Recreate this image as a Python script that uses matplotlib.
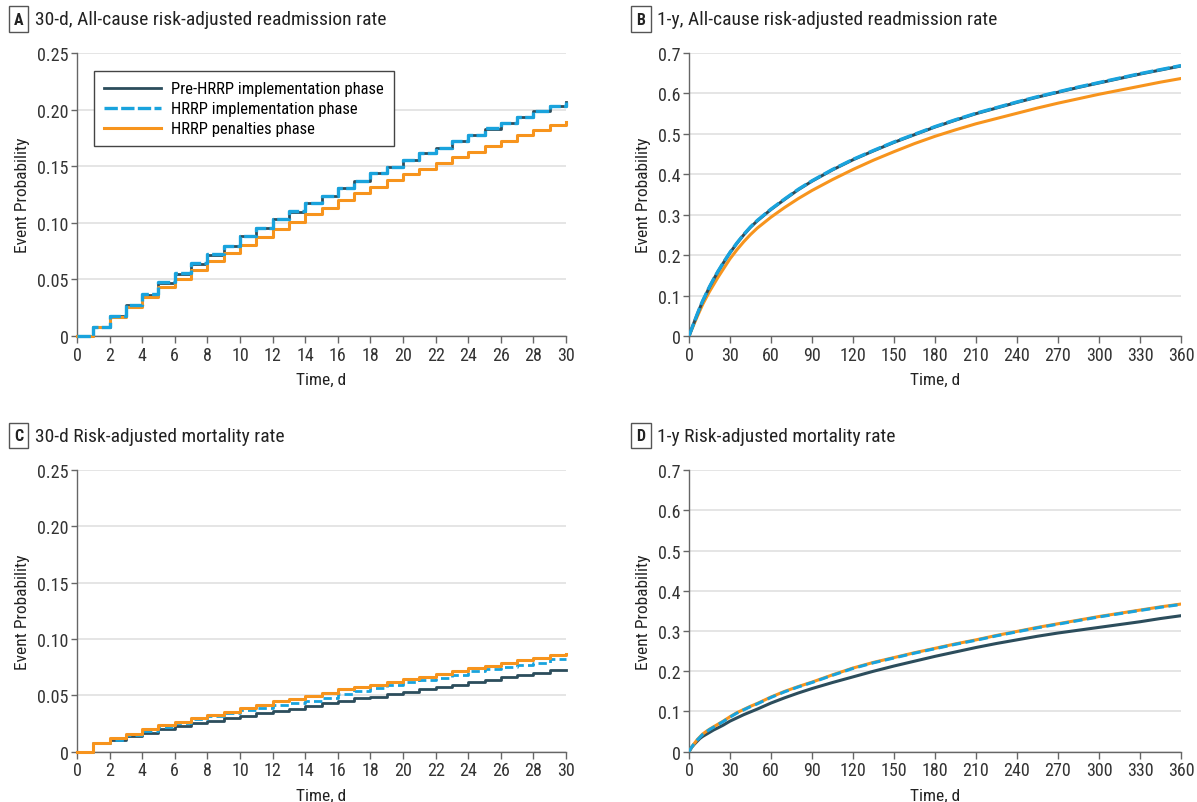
import matplotlib
matplotlib.use("Agg")
import matplotlib.pyplot as plt
from matplotlib import font_manager

# narrow-ish font: take the first one we have
names = {f.name for f in font_manager.fontManager.ttflist}
wanted = ["Roboto Condensed", "Open Sans Condensed", "Liberation Sans Narrow", "Roboto", "Liberation Sans"]
fam = [n for n in wanted if n in names][:1]
plt.rcParams["font.family"] = fam + ["DejaVu Sans"]

DARK = "#2c4d5c"
BLUE = "#19a3dd"
ORANGE = "#f7941d"

series_names = ["Pre-HRRP implementation phase",
                "HRRP implementation phase",
                "HRRP penalties phase"]

# panel A / C: days 0..30, step curves
days_30 = list(range(31))

readm30_pre = [0, 0.0083, 0.0177, 0.0277, 0.0366, 0.0472, 0.0552, 0.0640, 0.0720, 0.0797,
               0.0880, 0.0956, 0.1033, 0.1100, 0.1175, 0.1240, 0.1308, 0.1370, 0.1440, 0.1490,
               0.1555, 0.1615, 0.1660, 0.1720, 0.1777, 0.1833, 0.1880, 0.1936, 0.1990, 0.2030, 0.2066]
readm30_impl = [0, 0.0084, 0.0178, 0.0278, 0.0367, 0.0473, 0.0553, 0.0641, 0.0721, 0.0798,
                0.0881, 0.0957, 0.1034, 0.1101, 0.1176, 0.1241, 0.1309, 0.1371, 0.1441, 0.1491,
                0.1556, 0.1616, 0.1661, 0.1721, 0.1778, 0.1834, 0.1881, 0.1937, 0.1991, 0.2031, 0.2070]
readm30_pen = [0, 0.0083, 0.0168, 0.0260, 0.0345, 0.0430, 0.0500, 0.0584, 0.0660, 0.0735,
               0.0800, 0.0874, 0.0944, 0.1010, 0.1074, 0.1133, 0.1198, 0.1260, 0.1320, 0.1378,
               0.1430, 0.1476, 0.1530, 0.1580, 0.1630, 0.1680, 0.1724, 0.1777, 0.1824, 0.1865, 0.1890]

mort30_pre = [0, 0.0074, 0.0105, 0.0136, 0.0165, 0.0200, 0.0228, 0.0254, 0.0275, 0.0296,
              0.0318, 0.0340, 0.0360, 0.0380, 0.0405, 0.0432, 0.0452, 0.0473, 0.0490, 0.0510,
              0.0530, 0.0553, 0.0573, 0.0595, 0.0618, 0.0640, 0.0660, 0.0680, 0.0700, 0.0722, 0.0725]
mort30_impl = [0, 0.0074, 0.0107, 0.0150, 0.0186, 0.0222, 0.0254, 0.0288, 0.0320, 0.0345,
               0.0370, 0.0392, 0.0414, 0.0432, 0.0450, 0.0480, 0.0512, 0.0540, 0.0568, 0.0590,
               0.0615, 0.0635, 0.0657, 0.0685, 0.0713, 0.0730, 0.0749, 0.0770, 0.0790, 0.0820, 0.0825]
mort30_pen = [0, 0.0074, 0.0118, 0.0160, 0.0200, 0.0240, 0.0266, 0.0300, 0.0330, 0.0355,
              0.0390, 0.0415, 0.0450, 0.0465, 0.0497, 0.0525, 0.0553, 0.0575, 0.0595, 0.0620,
              0.0645, 0.0665, 0.0686, 0.0715, 0.0746, 0.0760, 0.0790, 0.0817, 0.0835, 0.0858, 0.0870]

# panel B / D: days 0..360, smooth curves
days_360 = [0, 2, 4, 6, 8, 10, 12, 15, 18, 21, 25, 30, 35, 40, 45, 50, 60, 70, 80, 90, 105, 120,
            135, 150, 165, 180, 195, 210, 225, 240, 255, 270, 285, 300, 315, 330, 345, 360]

readm1y_pre = [0, 0.018, 0.036, 0.053, 0.070, 0.086, 0.100, 0.121, 0.140, 0.158, 0.180, 0.206,
               0.229, 0.250, 0.269, 0.285, 0.313, 0.338, 0.362, 0.383, 0.411, 0.436, 0.458,
               0.479, 0.498, 0.517, 0.534, 0.550, 0.564, 0.578, 0.591, 0.603, 0.615, 0.626,
               0.637, 0.648, 0.658, 0.668]
readm1y_impl = [0, 0.018, 0.036, 0.054, 0.071, 0.087, 0.101, 0.122, 0.141, 0.159, 0.181, 0.207,
                0.230, 0.251, 0.270, 0.286, 0.314, 0.339, 0.363, 0.384, 0.412, 0.437, 0.459,
                0.480, 0.499, 0.518, 0.535, 0.551, 0.565, 0.579, 0.592, 0.604, 0.616, 0.627,
                0.638, 0.649, 0.659, 0.669]
readm1y_pen = [0, 0.016, 0.032, 0.048, 0.063, 0.078, 0.091, 0.110, 0.127, 0.144, 0.165, 0.191,
               0.213, 0.233, 0.251, 0.267, 0.294, 0.318, 0.340, 0.360, 0.387, 0.412, 0.435,
               0.456, 0.476, 0.494, 0.510, 0.525, 0.538, 0.551, 0.564, 0.576, 0.587, 0.598,
               0.608, 0.618, 0.628, 0.637]

mort1y_pre = [0, 0.011, 0.019, 0.026, 0.033, 0.038, 0.042, 0.048, 0.054, 0.059, 0.066, 0.076,
              0.084, 0.092, 0.099, 0.106, 0.121, 0.134, 0.146, 0.157, 0.172, 0.186, 0.200,
              0.213, 0.225, 0.237, 0.248, 0.259, 0.269, 0.278, 0.287, 0.295, 0.302, 0.309,
              0.316, 0.323, 0.331, 0.338]
mort1y_impl = [0, 0.012, 0.021, 0.029, 0.036, 0.043, 0.048, 0.055, 0.061, 0.067, 0.075, 0.086,
               0.096, 0.104, 0.112, 0.119, 0.135, 0.149, 0.161, 0.172, 0.190, 0.207, 0.221,
               0.233, 0.245, 0.256, 0.267, 0.277, 0.288, 0.298, 0.308, 0.317, 0.326, 0.335,
               0.343, 0.351, 0.359, 0.366]
mort1y_pen = [0, 0.012, 0.021, 0.030, 0.037, 0.044, 0.049, 0.056, 0.062, 0.068, 0.076, 0.087,
              0.097, 0.105, 0.113, 0.120, 0.136, 0.150, 0.162, 0.173, 0.191, 0.208, 0.222,
              0.234, 0.246, 0.257, 0.268, 0.278, 0.289, 0.299, 0.309, 0.318, 0.327, 0.336,
              0.344, 0.352, 0.360, 0.367]

panel_letters = ["A", "B", "C", "D"]
panel_titles = ["30-d, All-cause risk-adjusted readmission rate",
                "1-y, All-cause risk-adjusted readmission rate",
                "30-d Risk-adjusted mortality rate",
                "1-y Risk-adjusted mortality rate"]
ticks_30 = list(range(0, 31, 2))
ticks_360 = list(range(0, 361, 30))
yticks_short = [0, 0.05, 0.10, 0.15, 0.20, 0.25]
ylabels_short = ["0", "0.05", "0.10", "0.15", "0.20", "0.25"]
yticks_long = [0, 0.1, 0.2, 0.3, 0.4, 0.5, 0.6, 0.7]
ylabels_long = ["0", "0.1", "0.2", "0.3", "0.4", "0.5", "0.6", "0.7"]


def style_axes(ax, xticks, xmax, yticks, ylabels):
    ax.set_xlim(0, xmax)
    ax.set_ylim(0, yticks[-1])
    ax.set_xticks(xticks)
    ax.set_yticks(yticks)
    ax.set_yticklabels(ylabels)
    ax.grid(axis="y", color="#e0e0e0", linewidth=1.2)
    ax.set_axisbelow(True)
    for s in ["top", "right"]:
        ax.spines[s].set_visible(False)
    for s in ["left", "bottom"]:
        ax.spines[s].set_color("#666666")
        ax.spines[s].set_linewidth(1.0)
    ax.tick_params(axis="both", labelsize=13, colors="#666666", labelcolor="#333333",
                   length=5, width=1.0, direction="out", pad=2)
    ax.tick_params(axis="y", length=4)
    ax.set_xlabel("Time, d", fontsize=12.5, color="#222222", labelpad=6)
    ax.set_ylabel("Event Probability", fontsize=12.5, color="#222222", labelpad=5)


def draw_steps(ax, x, pre, impl, pen, pen_top):
    kw = dict(drawstyle="steps-post", clip_on=False)
    ax.plot(x, pre, color=DARK, lw=2.0, label=series_names[0], zorder=3, **kw)
    if pen_top:
        ax.plot(x, impl, color=BLUE, lw=2.0, ls=(0, (3, 1.5)), label=series_names[1], zorder=4, **kw)
        ax.plot(x, pen, color=ORANGE, lw=2.2, label=series_names[2], zorder=5, **kw)
    else:
        ax.plot(x, pen, color=ORANGE, lw=2.2, label=series_names[2], zorder=3, **kw)
        ax.plot(x, impl, color=BLUE, lw=2.4, ls=(0, (4, 1)), label=series_names[1], zorder=4, **kw)


fig = plt.figure(figsize=(11.97, 8.03), dpi=100)

ax_a = fig.add_axes([0.0643, 0.5803, 0.4086, 0.3524])
ax_b = fig.add_axes([0.5756, 0.5803, 0.4110, 0.3524])
ax_c = fig.add_axes([0.0643, 0.0626, 0.4086, 0.3508])
ax_d = fig.add_axes([0.5756, 0.0626, 0.4110, 0.3508])

# A
draw_steps(ax_a, days_30, readm30_pre, readm30_impl, readm30_pen, pen_top=False)
style_axes(ax_a, ticks_30, 30, yticks_short, ylabels_short)
h, l = ax_a.get_legend_handles_labels()
order = [l.index(n) for n in series_names]
leg = ax_a.legend([h[i] for i in order], [l[i] for i in order], loc="upper left",
                  bbox_to_anchor=(0.035, 0.935), fontsize=12, frameon=True, fancybox=False,
                  framealpha=1, handlelength=3.4, handletextpad=0.6, borderpad=0.6,
                  labelspacing=0.3, borderaxespad=0)
leg.get_frame().set_edgecolor("#444444")
leg.get_frame().set_linewidth(1.0)
leg.set_zorder(10)

# B
ax_b.plot(days_360, readm1y_pen, color=ORANGE, lw=2.2, zorder=3)
ax_b.plot(days_360, readm1y_pre, color=DARK, lw=2.2, zorder=4)
ax_b.plot(days_360, readm1y_impl, color=BLUE, lw=2.4, ls=(0, (4, 1)), zorder=5)
style_axes(ax_b, ticks_360, 360, yticks_long, ylabels_long)

# C
draw_steps(ax_c, days_30, mort30_pre, mort30_impl, mort30_pen, pen_top=True)
style_axes(ax_c, ticks_30, 30, yticks_short, ylabels_short)

# D
ax_d.plot(days_360, mort1y_pre, color=DARK, lw=2.2, zorder=3)
ax_d.plot(days_360, mort1y_pen, color=ORANGE, lw=2.2, zorder=4)
ax_d.plot(days_360, mort1y_impl, color=BLUE, lw=2.2, ls=(0, (3, 1.5)), zorder=5)
style_axes(ax_d, ticks_360, 360, yticks_long, ylabels_long)

# panel letters and titles
label_pos = [(0.0155, 0.975), (0.5355, 0.975), (0.0155, 0.456), (0.5355, 0.456)]
for (px, py), letter, title in zip(label_pos, panel_letters, panel_titles):
    fig.text(px, py, letter, fontsize=11.5, fontweight="bold", ha="center", va="center",
             color="#222222",
             bbox=dict(boxstyle="square,pad=0.32", facecolor="white", edgecolor="#555555", lw=1.0))
    fig.text(px + 0.0135, py, title, fontsize=14, ha="left", va="center", color="#222222")

fig.savefig("out.png", dpi=100, facecolor="white")
